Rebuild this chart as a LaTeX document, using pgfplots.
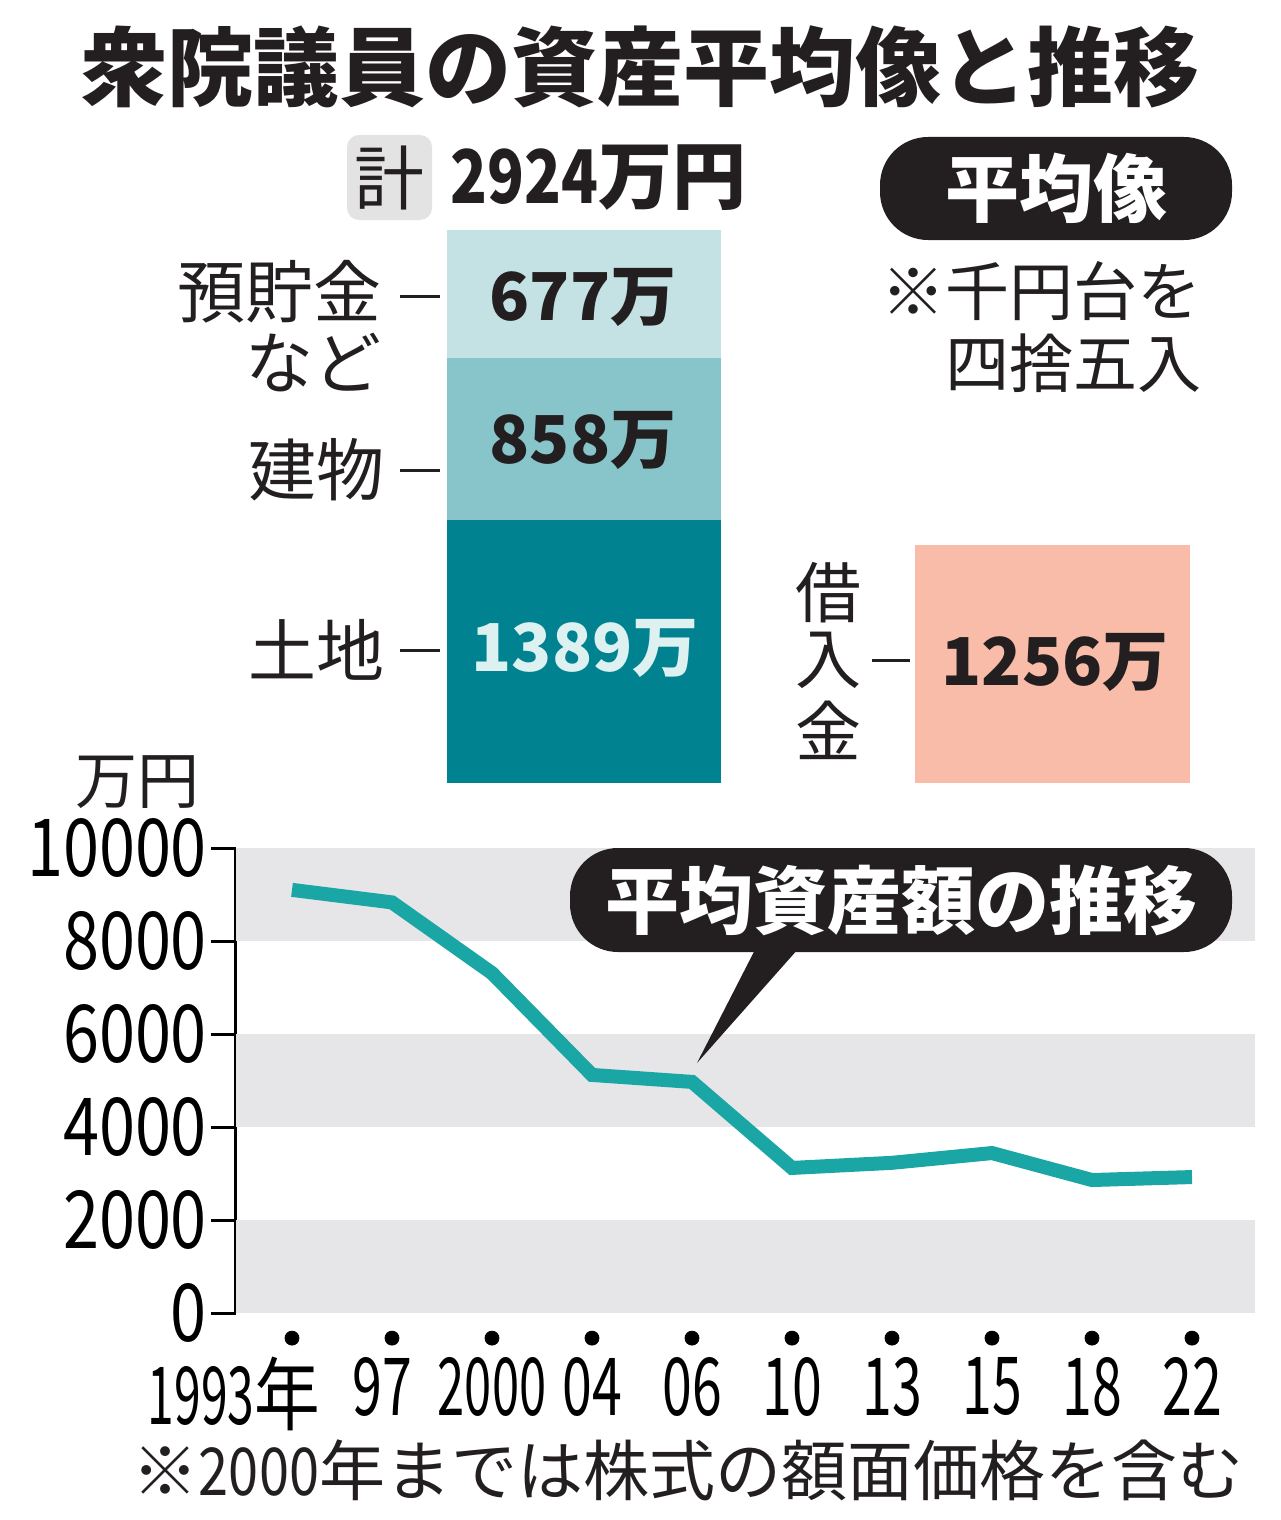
\documentclass[border=0pt]{standalone}
\usepackage{pgfplots}
\pgfplotsset{compat=1.18}
\usepackage{fontspec}
\setmainfont{Noto Sans CJK JP}
\definecolor{teal1}{HTML}{1AA6A4}
\definecolor{band}{HTML}{E6E6E8}
\definecolor{segA}{HTML}{C4E2E3}
\definecolor{segB}{HTML}{88C5CB}
\definecolor{segC}{HTML}{008290}
\definecolor{borrow}{HTML}{F8BCA8}
\definecolor{boxgrey}{HTML}{E3E3E3}
\definecolor{ink}{HTML}{231F20}
\definecolor{paletxt}{HTML}{DDF1F1}
\newcommand\fs[1]{\fontsize{#1}{#1}\selectfont}
\newcommand\cd[1]{\scalebox{0.82}[1]{#1}}
\newcommand\cy[1]{\scalebox{0.81}[1]{#1}}
\newcommand\cx[1]{\scalebox{0.67}[1]{#1}}
\begin{document}
\begin{tikzpicture}
\useasboundingbox (0,0) rectangle (640pt,-760pt);
% stacked bar
\begin{axis}[at={(0pt,-391.5pt)}, anchor=south west, scale only axis,
  width=640pt, height=276.5pt, xmin=0, xmax=1280, ymin=0, ymax=2924,
  hide axis, ybar stacked, bar width=274, clip=false]
\addplot[fill=segC, draw=none] coordinates {(584,1389)};
\addplot[fill=segB, draw=none] coordinates {(584,858)};
\addplot[fill=segA, draw=none] coordinates {(584,677)};
\end{axis}
% borrowings
\begin{axis}[at={(0pt,-391.5pt)}, anchor=south west, scale only axis,
  width=640pt, height=276.5pt, xmin=0, xmax=1280, ymin=0, ymax=2924,
  hide axis, ybar, bar width=275, clip=false]
\addplot[fill=borrow, draw=none] coordinates {(1052.5,1256)};
\end{axis}
% line chart
\begin{axis}[at={(118pt,-656.5pt)}, anchor=south west, scale only axis,
  width=509.5pt, height=232.5pt, xmin=-0.56, xmax=9.63, ymin=0, ymax=10000,
  scaled y ticks=false,
  axis lines*=left, x axis line style={draw=none},
  y axis line style={line width=1.5pt, black},
  ytick={0,2000,4000,6000,8000,10000},
  yticklabels={\cy{0},\cy{2000},\cy{4000},\cy{6000},\cy{8000},\cy{10000}},
  yticklabel style={font=\fs{40}, anchor=east, xshift=1.5pt},
  tick align=outside, major tick length=12.5pt,
  ytick style={line width=1.5pt, black},
  xtick={0,...,9}, xtick style={draw=none},
  xticklabels={{\makebox[0pt][r]{\scalebox{0.6}[1]{1993}\scalebox{0.82}[1]{年}\kern-14pt}},{\makebox[0pt]{\cx{97}\kern10pt}},{\scalebox{0.61}[1]{2000}},\cx{04},\cx{06},\cx{10},\cx{13},\cx{15},\cx{18},\cx{22}},
  xticklabel style={font=\fs{40}, anchor=north, yshift=-6pt},
  clip=false]
\fill[band] (axis cs:-0.56,8000) rectangle (axis cs:9.63,10000);
\fill[band] (axis cs:-0.56,4000) rectangle (axis cs:9.63,6000);
\fill[band] (axis cs:-0.56,0) rectangle (axis cs:9.63,2000);
\addplot[teal1, line width=7pt] coordinates {
 (0,9100) (1,8830) (2,7310) (3,5120) (4,4970) (5,3120) (6,3230) (7,3440) (8,2860) (9,2924)};
\addplot[only marks, mark=*, mark size=3.5pt, black] coordinates {
 (0,-540) (1,-540) (2,-540) (3,-540) (4,-540) (5,-540) (6,-540) (7,-540) (8,-540) (9,-540)};
\end{axis}
\begin{scope}[x=0.5pt, y=-0.5pt]
\node[font={\fs{43}\bfseries}, text=ink] at (640,67) {衆院議員の資産平均像と推移};
\fill[boxgrey, rounded corners=6pt] (347,135) rectangle (432,220);
\node[font=\fs{35}, text=ink] at (389.5,178) {計};
\node[font={\fs{37}\bfseries}, text=ink, anchor=west, inner sep=0pt] at (450,178) {\cd{2924}万円};
% pill
\fill[ink, rounded corners=24pt] (880,137) rectangle (1232,240);
\node[font={\fs{37}\bfseries}, text=white] at (1056,188) {平均像};
\node[font=\fs{32}, text=ink, anchor=east, inner sep=0pt] at (1202,291) {※千円台を};
\node[font=\fs{32}, text=ink, anchor=east, inner sep=0pt] at (1202,363) {四捨五入};
% left labels
\node[font=\fs{34}, text=ink, anchor=east, inner sep=0pt] at (382,292) {預貯金};
\node[font=\fs{34}, text=ink, anchor=east, inner sep=0pt] at (382,363) {など};
\node[font=\fs{34}, text=ink, anchor=east, inner sep=0pt] at (385,470) {建物};
\node[font=\fs{34}, text=ink, anchor=east, inner sep=0pt] at (385,650) {土地};
\draw[ink, line width=1.5pt] (400,296) -- (440,296);
\draw[ink, line width=1.5pt] (400,470) -- (440,470);
\draw[ink, line width=1.5pt] (400,650) -- (440,650);
% values
\node[font={\fs{33}\bfseries}, text=ink] at (583,297) {677万};
\node[font={\fs{33}\bfseries}, text=ink] at (583,440) {858万};
\node[font={\fs{33}\bfseries}, text=paletxt] at (585,648) {1389万};
\node[font={\fs{33}\bfseries}, text=ink] at (1055,662) {1256万};
% borrowing label
\node[font=\fs{33}, text=ink] at (828,593) {借};
\node[font=\fs{33}, text=ink] at (828,660) {入};
\node[font=\fs{33}, text=ink] at (828,730) {金};
\draw[ink, line width=1.5pt] (872,660) -- (910,660);
% unit
\node[font=\fs{31}, text=ink] at (137,782) {万円};
% callout
\fill[ink, rounded corners=24pt] (570,848) rectangle (1232,952);
\fill[ink] (760,940) -- (806,940) -- (697,1063) -- cycle;
\node[font={\fs{37}\bfseries}, text=white] at (901,900) {平均資産額の推移};
% footnote
\node[font=\fs{33}, text=ink] at (688,1470) {※\cd{2000}年までは株式の額面価格を含む};
\end{scope}
\end{tikzpicture}
\end{document}
